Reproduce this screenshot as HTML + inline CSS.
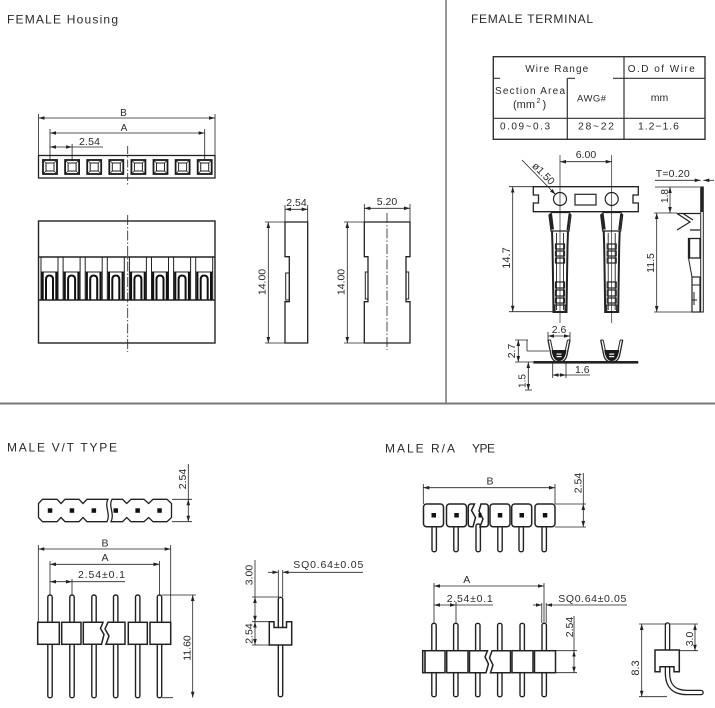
<!DOCTYPE html>
<html><head><meta charset="utf-8"><style>
html,body{margin:0;padding:0;background:#fff;}
svg{display:block;}
text{font-family:"Liberation Sans",sans-serif;fill:#2a2a2a;}
</style></head><body>
<svg width="715" height="708" viewBox="0 0 715 708" xmlns="http://www.w3.org/2000/svg">
<defs>
<marker id="ar" viewBox="0 0 10 10" refX="10" refY="5" markerWidth="6" markerHeight="3.6" orient="auto-start-reverse" markerUnits="userSpaceOnUse" preserveAspectRatio="none"><path d="M0,0L10,5L0,10z" fill="#222"/></marker>
<g id="cav">
<rect x="-7" y="160" width="14" height="14" fill="none" stroke="#1a1a1a" stroke-width="1.8"/>
<rect x="-4" y="163" width="8" height="8" fill="none" stroke="#222" stroke-width="1"/>
<path d="M-7,160L-4,163M7,160L4,163M-7,174L-4,171M7,174L4,171" stroke="#222" stroke-width="0.8"/>
</g>
<g id="cell">
<rect x="0" y="257" width="17" height="43" fill="none" stroke="#222" stroke-width="1"/>
<line x1="0" y1="272" x2="17" y2="272" stroke="#222" stroke-width="1"/>
<rect x="0.5" y="272" width="2.2" height="28" fill="#111"/>
<rect x="14.3" y="272" width="2.2" height="28" fill="#111"/>
<path d="M5,299.5V279.5Q5,275.5 8.5,275.5Q12,275.5 12,279.5V299.5" fill="none" stroke="#111" stroke-width="2"/>
</g>
<g id="term" fill="none" stroke="#222">
<path d="M-11,215L-8,212.5L9,212.5L11,215L9,231L-9,231Z" stroke-width="1.2"/>
<path d="M-11,215.5L-8,213.5L-6,229.5L-9,229.5Z" fill="#222" stroke="none"/>
<path d="M9.5,214L7.5,230" stroke-width="2"/>
<path d="M-8,231L-7.5,246L-7,278L-6.5,312L6.5,312L7,278L7.5,246L8,231" stroke-width="2"/>
<path d="M-3.5,233V310M3.5,233V310" stroke-width="0.9"/>
<rect x="-4.5" y="244" width="9" height="5" stroke-width="1.2"/>
<rect x="-4.5" y="251" width="9" height="5" stroke-width="1.2"/>
<rect x="-4.5" y="258" width="9" height="5" stroke-width="1.2"/>
<rect x="-4.5" y="282" width="9" height="6" stroke-width="1.2"/>
<rect x="-4.5" y="290" width="9" height="6" stroke-width="1.2"/>
<rect x="-4.5" y="298" width="9" height="5" stroke-width="1.2"/>
<rect x="-5" y="305" width="10" height="7" stroke-width="1.2"/>
</g>
<g id="u">
<path d="M-11,340L-8,355Q-6.5,362 0,362Q6.5,362 8,355L11,340" fill="none" stroke="#222" stroke-width="1.3"/>
<path d="M-8.5,340L-6,352M8.5,340L6,352M-11,340H-8.5M11,340H8.5" stroke="#222" stroke-width="1"/>
<path d="M-7.5,350Q-6,361 0,361Q6,361 7.5,350Z" fill="#1a1a1a"/>
<rect x="-2.5" y="353.5" width="5" height="1.2" fill="#fff"/>
<rect x="-2.5" y="356" width="5" height="1.2" fill="#fff"/>
</g>
</defs>
<rect width="715" height="708" fill="#fff"/>

<!-- frames -->
<line x1="446" y1="0" x2="446" y2="403" stroke="#777" stroke-width="1.5"/>
<line x1="0" y1="403.5" x2="715" y2="403.5" stroke="#777" stroke-width="2"/>

<!-- titles -->
<text x="7" y="23.3" font-size="12" textLength="111" lengthAdjust="spacing">FEMALE Housing</text>
<text x="471" y="23" font-size="12" textLength="122" lengthAdjust="spacing">FEMALE TERMINAL</text>
<text x="7" y="451.7" font-size="12" textLength="110" lengthAdjust="spacing">MALE V/T TYPE</text>
<text x="385" y="452.5" font-size="12" textLength="70" lengthAdjust="spacing">MALE R/A</text>
<text x="472" y="452.5" font-size="12" textLength="23" lengthAdjust="spacing">YPE</text>

<!-- ================= FEMALE HOUSING ================= -->
<rect x="38.5" y="155.5" width="176.5" height="22.5" fill="none" stroke="#222" stroke-width="1.3"/>
<use href="#cav" x="50"/><use href="#cav" x="72.1"/><use href="#cav" x="94.2"/><use href="#cav" x="116.3"/>
<use href="#cav" x="138.4"/><use href="#cav" x="160.5"/><use href="#cav" x="182.6"/><use href="#cav" x="204.7"/>
<g stroke="#222" stroke-width="0.8" fill="none">
<path d="M38.5,118H215" marker-start="url(#ar)" marker-end="url(#ar)"/>
<path d="M50,133H204.7" marker-start="url(#ar)" marker-end="url(#ar)"/>
<path d="M50,147H72.1" marker-start="url(#ar)" marker-end="url(#ar)"/>
<path d="M72.1,147H103"/>
<path d="M38.5,114V155M215,114V155M50,129V160M204.7,129V160M72.1,144V160"/>
<path d="M127.7,146V185" stroke-dasharray="8,2,1.5,2"/>
</g>
<text x="123.5" y="116" font-size="10" text-anchor="middle">B</text>
<text x="124" y="131" font-size="10" text-anchor="middle">A</text>
<text x="79" y="145" font-size="10.5" textLength="21">2.54</text>

<rect x="38.5" y="221" width="176.5" height="122" fill="none" stroke="#222" stroke-width="1.4"/>
<path d="M38.5,257H215M38.5,300H215" stroke="#222" stroke-width="1.4"/>
<use href="#cell" x="41"/><use href="#cell" x="63.1"/><use href="#cell" x="85.2"/><use href="#cell" x="107.3"/>
<use href="#cell" x="129.4"/><use href="#cell" x="151.5"/><use href="#cell" x="173.6"/><use href="#cell" x="195.7"/>
<path d="M127.7,215V352" stroke="#222" stroke-width="0.8" stroke-dasharray="10,2,1.5,2"/>

<!-- side views -->
<g fill="none" stroke="#222">
<path d="M285,222H307.7V343H285V301.7H289.3V256.7H285Z" stroke-width="1.3"/>
<rect x="285.7" y="273" width="3.6" height="27" stroke-width="1"/>
<path d="M364.3,222H410V256.7H406V301.7H410V343H364.3V301.7H368V256.7H364.3Z" stroke-width="1.3"/>
<rect x="365.3" y="272" width="2.7" height="27" stroke-width="1"/>
<rect x="406" y="272" width="2.7" height="27" stroke-width="1"/>
<g stroke-width="0.8">
<path d="M285,209.3H307.7" marker-start="url(#ar)" marker-end="url(#ar)"/>
<path d="M285,205V222M307.7,205V222"/>
<path d="M268.3,222V343" marker-start="url(#ar)" marker-end="url(#ar)"/>
<path d="M265,222H285M265,343H285"/>
<path d="M364.3,208.3H410" marker-start="url(#ar)" marker-end="url(#ar)"/>
<path d="M364.3,204V222M410,204V222"/>
<path d="M347.3,222V343" marker-start="url(#ar)" marker-end="url(#ar)"/>
<path d="M344,222H364M344,343H364"/>
<path d="M387,213V350" stroke-dasharray="10,2,1.5,2"/>
</g>
</g>
<text x="296.5" y="206" font-size="10.5" text-anchor="middle">2.54</text>
<text x="387" y="205" font-size="10.5" text-anchor="middle">5.20</text>
<text transform="translate(262,282) rotate(-90)" dy="3.6" font-size="10.5" text-anchor="middle">14.00</text>
<text transform="translate(341,282) rotate(-90)" dy="3.6" font-size="10.5" text-anchor="middle">14.00</text>

<!-- ================= FEMALE TERMINAL ================= -->
<g fill="none" stroke="#333" stroke-width="1.2">
<rect x="493.3" y="56.7" width="211.7" height="82.6" stroke-width="1.4"/>
<path d="M624,56.7V139.3M567.3,78.3V139.3M493.3,118.3H705"/>
<path d="M493.3,78.3H500M567.3,78.3H575M613,78.3H705"/>
</g>
<text x="556.7" y="72" font-size="10" text-anchor="middle" textLength="63" lengthAdjust="spacing">Wire Range</text>
<text x="661.3" y="72" font-size="10" text-anchor="middle" textLength="67" lengthAdjust="spacing">O.D of Wire</text>
<text x="495" y="94" font-size="10" textLength="70" lengthAdjust="spacing">Section Area</text>
<text x="513" y="108" font-size="11">(mm</text>
<text x="536.5" y="103" font-size="7">2</text>
<text x="542.5" y="108" font-size="11">)</text>
<text x="577" y="101.5" font-size="9.5" textLength="29" lengthAdjust="spacing">AWG#</text>
<text x="659.5" y="101" font-size="10.5" text-anchor="middle">mm</text>
<text x="500" y="129.5" font-size="10" textLength="50" lengthAdjust="spacing">0.09~0.3</text>
<text x="578" y="129.5" font-size="10.5" textLength="36" lengthAdjust="spacing">28~22</text>
<text x="638" y="129.5" font-size="10.5" textLength="41" lengthAdjust="spacing">1.2−1.6</text>

<!-- carrier strip -->
<g fill="none" stroke="#222">
<path d="M533.3,186.7H638.3V195H633V203H638.3V211.7H533.3V203H538.5V195H533.3Z" stroke-width="1.3"/>
<circle cx="560" cy="199" r="6.5" stroke-width="1.2"/>
<circle cx="611.7" cy="199" r="6.5" stroke-width="1.2"/>
<rect x="575" y="194.3" width="21" height="10.7" stroke-width="1.2"/>
</g>
<use href="#term" x="560"/>
<use href="#term" x="611.7"/>
<g fill="none" stroke="#222" stroke-width="0.8">
<path d="M560,155V323M611.7,155V323" stroke-width="0.7"/>
<path d="M560,161.7H611.7" marker-start="url(#ar)" marker-end="url(#ar)"/>
<path d="M522,160L555.5,194.5" marker-end="url(#ar)"/>
<path d="M512.7,186.7V311.7" marker-start="url(#ar)" marker-end="url(#ar)"/>
<path d="M509,186.7H533M509,311.7H553"/>
</g>
<text x="586" y="158" font-size="10.5" text-anchor="middle">6.00</text>
<text transform="translate(541,176) rotate(45)" font-size="10.5" text-anchor="middle">ø1.50</text>
<text transform="translate(506,258) rotate(-90)" dy="3.8" font-size="11" text-anchor="middle">14.7</text>

<!-- side profile -->
<g fill="none" stroke="#222">
<rect x="700.7" y="187" width="2.6" height="125" stroke-width="1"/>
<rect x="700.7" y="187" width="2.6" height="25" fill="#222" stroke="none"/>
<path d="M677,213.5H700M677,213.5L690,222L677,230M683,213.5L693,220M700,230H690" stroke-width="1.2"/>
<rect x="688.5" y="238.5" width="11.5" height="19.5" stroke-width="1.3"/>
<rect x="688" y="238" width="2.2" height="20" fill="#222" stroke="none"/>
<path d="M688.5,258L692,277" stroke-width="1"/>
<rect x="692" y="277" width="8" height="35" stroke-width="1.2"/>
<path d="M692,285H700M694,292V305M692,300H697" stroke-width="1"/>
<g stroke-width="0.8">
<path d="M655,180.3H700.7" marker-end="url(#ar)"/>
<path d="M714,180.3H703.3" marker-end="url(#ar)"/>
<path d="M670,187V213" marker-start="url(#ar)" marker-end="url(#ar)"/>
<path d="M656.7,213V312" marker-start="url(#ar)" marker-end="url(#ar)"/>
<path d="M655,187H700M654,213H677M654,312H703"/>
</g>
</g>
<text x="655.7" y="177" font-size="10.5" textLength="34" lengthAdjust="spacing">T=0.20</text>
<text transform="translate(664.5,196) rotate(-90)" dy="3.6" font-size="10" text-anchor="middle">1.8</text>
<text transform="translate(650.5,263) rotate(-90)" dy="3.6" font-size="10.5" text-anchor="middle">11.5</text>

<!-- cross-section -->
<rect x="533.3" y="361" width="105" height="2.6" fill="#222"/>
<use href="#u" x="559"/>
<use href="#u" x="611.7"/>
<g fill="none" stroke="#222" stroke-width="0.8">
<path d="M548,336H570" marker-start="url(#ar)" marker-end="url(#ar)"/>
<path d="M548,332V340M570,332V340"/>
<path d="M518.3,340V362" marker-start="url(#ar)" marker-end="url(#ar)"/>
<path d="M515,340H528M527,340V351M527,351H549M515,362H533"/>
<path d="M528.3,362V390" marker-start="url(#ar)" marker-end="url(#ar)"/>
<path d="M525,390H532"/>
<path d="M552.7,375H566" marker-start="url(#ar)" marker-end="url(#ar)"/>
<path d="M566,375H590M552.7,363V378M566,363V378"/>
</g>
<text x="559" y="333" font-size="10.5" text-anchor="middle">2.6</text>
<text x="575" y="373" font-size="10.5">1.6</text>
<text transform="translate(511.5,351) rotate(-90)" dy="3.6" font-size="10.5" text-anchor="middle">2.7</text>
<text transform="translate(522,381) rotate(-90)" dy="3.6" font-size="10" text-anchor="middle">1.5</text>

<!-- ================= MALE V/T ================= -->
<g fill="none" stroke="#222" stroke-width="1.3">
<path d="M38.5,503.5L42.5,499.3L57,499.3L61,503.5L65,499.3L79,499.3L83,503.5L87,499.3L108,499.3C104,506 111,514 107,521.7L87,521.7L83,517.5L79,521.7L65,521.7L61,517.5L57,521.7L42.5,521.7L38.5,517.5Z"/>
<path d="M112,499.3L122.5,499.3L126.7,503.5L131,499.3L144,499.3L148.6,503.5L153,499.3L167,499.3L171.5,503.5L171.5,517.5L167,521.7L153,521.7L148.6,517.5L144,521.7L131,521.7L126.7,517.5L122.5,521.7L111,521.7C115,514 108,506 112,499.3Z"/>
</g>
<g fill="#111">
<rect x="47.8" y="508.3" width="4.5" height="4.5"/><rect x="69.7" y="508.3" width="4.5" height="4.5"/>
<rect x="91.6" y="508.3" width="4.5" height="4.5"/><rect x="113.5" y="508.3" width="4.5" height="4.5"/>
<rect x="135.4" y="508.3" width="4.5" height="4.5"/><rect x="157.3" y="508.3" width="4.5" height="4.5"/>
</g>
<g fill="none" stroke="#222" stroke-width="0.8">
<path d="M188.3,499.3V521.7" marker-start="url(#ar)" marker-end="url(#ar)"/>
<path d="M188.3,464V499.3M172,499.3H192M172,521.7H192"/>
</g>
<text transform="translate(182.5,479) rotate(-90)" dy="3.6" font-size="10.5" text-anchor="middle">2.54</text>

<!-- front -->
<g fill="#fff" stroke="#222" stroke-width="1.4">
<rect x="47.8" y="595" width="4.4" height="102.7" rx="2"/>
<rect x="69.8" y="595" width="4.4" height="102.7" rx="2"/>
<rect x="91.8" y="595" width="4.4" height="102.7" rx="2"/>
<rect x="113.5" y="595" width="4.4" height="102.7" rx="2"/>
<rect x="135.5" y="595" width="4.4" height="102.7" rx="2"/>
<rect x="157.3" y="595" width="4.4" height="102.7" rx="2"/>
</g>
<g fill="#fff" stroke="#222" stroke-width="1.5">
<rect x="37.7" y="622.3" width="21.6" height="22"/>
<rect x="61.7" y="622.3" width="19.3" height="22"/>
<path d="M83.3,622.3H103L100.5,628.5L104,634.5L101.5,644.3H83.3Z"/>
<path d="M108,622.3H125V644.3H106L109,636L105,629Z"/>
<rect x="128.3" y="622.3" width="19" height="22"/>
<rect x="150" y="622.3" width="20.7" height="22"/>
</g>
<g fill="none" stroke="#222" stroke-width="0.8">
<path d="M38.3,549H170.7" marker-start="url(#ar)" marker-end="url(#ar)"/>
<path d="M38.3,545V622M170.7,545V622"/>
<path d="M50,564.3H159.5" marker-start="url(#ar)" marker-end="url(#ar)"/>
<path d="M50,561V595M159.5,561V595"/>
<path d="M50,581.7H72" marker-start="url(#ar)" marker-end="url(#ar)"/>
<path d="M72,581.7H125M72,579V595"/>
<path d="M192.7,595V697.7" marker-start="url(#ar)" marker-end="url(#ar)"/>
<path d="M162,595H196M162,697.7H173"/>
</g>
<text x="105" y="546.5" font-size="10.5" text-anchor="middle">B</text>
<text x="105" y="561" font-size="10.5" text-anchor="middle">A</text>
<text x="78" y="578" font-size="10.5" textLength="47" lengthAdjust="spacing">2.54±0.1</text>
<text transform="translate(187,648) rotate(-90)" dy="3.6" font-size="10.5" text-anchor="middle">11.60</text>

<!-- side V/T -->
<rect x="278.3" y="597.3" width="4.4" height="99.4" rx="2" fill="#fff" stroke="#222" stroke-width="1.4"/>
<path d="M269.3,621.7H274V627.5H286.5V621.7H291.7V645H269.3Z" fill="#fff" stroke="#222" stroke-width="1.5"/>
<g fill="none" stroke="#222" stroke-width="0.8">
<path d="M268,572.3H278.3" marker-end="url(#ar)"/>
<path d="M363,572.3H282.7" marker-end="url(#ar)"/>
<path d="M278.3,570V597M282.7,570V597"/>
<path d="M255,597V621.7" marker-start="url(#ar)" marker-end="url(#ar)"/>
<path d="M255,621.7V645" marker-start="url(#ar)" marker-end="url(#ar)"/>
<path d="M255,560V597M252,597H279M252,621.7H269M252,645H269"/>
</g>
<text x="293.3" y="568" font-size="10.5" textLength="70" lengthAdjust="spacing">SQ0.64±0.05</text>
<text transform="translate(249,575) rotate(-90)" dy="3.6" font-size="10.5" text-anchor="middle">3.00</text>
<text transform="translate(249,633.5) rotate(-90)" dy="3.6" font-size="10.5" text-anchor="middle">2.54</text>

<!-- ================= MALE R/A ================= -->
<g fill="#fff" stroke="#222" stroke-width="1.4">
<rect x="432" y="524" width="4.4" height="27.7" rx="2"/>
<rect x="453.8" y="524" width="4.4" height="27.7" rx="2"/>
<rect x="476" y="524" width="4.4" height="27.7" rx="2"/>
<rect x="497.8" y="524" width="4.4" height="27.7" rx="2"/>
<rect x="519" y="524" width="4.4" height="27.7" rx="2"/>
<rect x="542" y="524" width="4.4" height="27.7" rx="2"/>
</g>
<g fill="#fff" stroke="#222" stroke-width="1.5">
<rect x="423.5" y="504" width="20" height="22.7" rx="3"/>
<rect x="446.5" y="504" width="20" height="22.7" rx="3"/>
<path d="M471,504H474.5L471.5,510.5L475.5,517.5L473,526.7H471Q468.3,526.7 468.3,524V507Q468.3,504 471,504Z"/>
<path d="M481,504H485.5Q488.3,504 488.3,507V524Q488.3,526.7 485.5,526.7H480L483,519L479,511Z"/>
<rect x="490" y="504" width="20" height="22.7" rx="3"/>
<rect x="511.7" y="504" width="20" height="22.7" rx="3"/>
<rect x="535" y="504" width="20" height="22.7" rx="3"/>
</g>
<g fill="#111">
<rect x="431.5" y="513" width="4.5" height="4.5"/><rect x="454.3" y="513" width="4.5" height="4.5"/>
<rect x="478.5" y="513" width="3" height="4.5"/><rect x="497.8" y="513" width="4.5" height="4.5"/>
<rect x="519.5" y="513" width="4.5" height="4.5"/><rect x="542.8" y="513" width="4.5" height="4.5"/>
</g>
<g fill="none" stroke="#222" stroke-width="0.8">
<path d="M423.3,487.7H555" marker-start="url(#ar)" marker-end="url(#ar)"/>
<path d="M423.3,484V504M555,484V504"/>
<path d="M583.3,504V527" marker-start="url(#ar)" marker-end="url(#ar)"/>
<path d="M583.3,473V504M555,504H586M555,527H586"/>
</g>
<text x="490" y="484.5" font-size="10.5" text-anchor="middle">B</text>
<text transform="translate(578,483) rotate(-90)" dy="3.6" font-size="10.5" text-anchor="middle">2.54</text>

<!-- R/A front -->
<g fill="#fff" stroke="#222" stroke-width="1.4">
<rect x="431.8" y="623.3" width="4.4" height="73.4" rx="2"/>
<rect x="453.6" y="623.3" width="4.4" height="73.4" rx="2"/>
<rect x="475.6" y="623.3" width="4.4" height="73.4" rx="2"/>
<rect x="497.6" y="623.3" width="4.4" height="73.4" rx="2"/>
<rect x="520" y="623.3" width="4.4" height="73.4" rx="2"/>
<rect x="542" y="623.3" width="4.4" height="73.4" rx="2"/>
</g>
<g fill="#fff" stroke="#222" stroke-width="1.5">
<rect x="422.7" y="650.7" width="22.3" height="22"/>
<rect x="446.7" y="650.7" width="21.3" height="22"/>
<path d="M469.5,650.7H487.5L485,657L488.5,664L486,672.7H469.5Z"/>
<path d="M492,650.7H510.5V672.7H490.5L493,665L489.5,658Z"/>
<rect x="512" y="650.7" width="21" height="22"/>
<rect x="534.5" y="650.7" width="21" height="22"/>
</g>
<line x1="425" y1="650.7" x2="425" y2="672.7" stroke="#222" stroke-width="1.6"/>
<g fill="none" stroke="#222" stroke-width="0.8">
<path d="M434,586H544" marker-start="url(#ar)" marker-end="url(#ar)"/>
<path d="M434,583V623M544,583V623"/>
<path d="M434,605H456" marker-start="url(#ar)" marker-end="url(#ar)"/>
<path d="M456,605H493M456,602V623"/>
<path d="M533,605H541.8" marker-end="url(#ar)"/>
<path d="M627,605H546.2" marker-end="url(#ar)"/>
<path d="M541.8,603V623M546.2,603V623"/>
<path d="M574,650.7V672.7" marker-start="url(#ar)" marker-end="url(#ar)"/>
<path d="M574,616V650.7M556,650.7H577M556,672.7H577"/>
</g>
<text x="466.7" y="583" font-size="10.5" text-anchor="middle">A</text>
<text x="446.7" y="602" font-size="10.5" textLength="46" lengthAdjust="spacing">2.54±0.1</text>
<text x="558.3" y="602" font-size="10.5" textLength="68" lengthAdjust="spacing">SQ0.64±0.05</text>
<text transform="translate(569.5,627) rotate(-90)" dy="3.6" font-size="10.5" text-anchor="middle">2.54</text>

<!-- R/A side -->
<path d="M667.5,625V673Q667.5,692.5 687,692.5H701" fill="none" stroke="#222" stroke-width="5.6" stroke-linecap="round"/>
<path d="M667.5,625V673Q667.5,692.5 687,692.5H701" fill="none" stroke="#fff" stroke-width="3" stroke-linecap="round"/>
<path d="M655,650H679.3V671.7H674V666.7H660V671.7H655Z" fill="#fff" stroke="#222" stroke-width="1.5"/>
<g fill="none" stroke="#222" stroke-width="0.8">
<path d="M641.7,624V696.7" marker-start="url(#ar)" marker-end="url(#ar)"/>
<path d="M639,624H667M639,696.7H667"/>
<path d="M695,624V650.7" marker-start="url(#ar)" marker-end="url(#ar)"/>
<path d="M670,624H698M679,650.7H698"/>
</g>
<text transform="translate(635,668) rotate(-90)" dy="3.8" font-size="11" text-anchor="middle">8.3</text>
<text transform="translate(689.5,639) rotate(-90)" dy="3.6" font-size="10.5" text-anchor="middle">3.0</text>
</svg>
</body></html>
